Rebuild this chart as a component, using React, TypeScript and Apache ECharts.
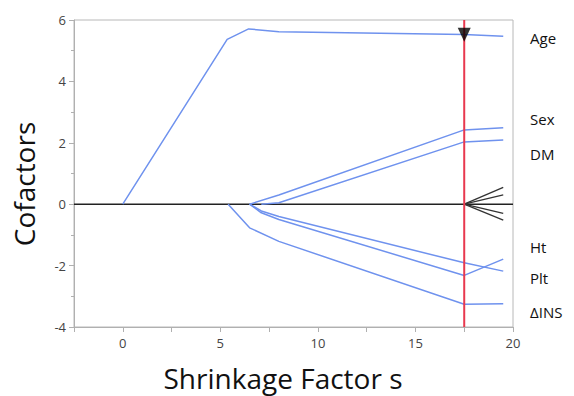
import React, { useEffect, useRef } from "react";
import * as echarts from "echarts";

const ageLine: [number, number][] = [[0, 0], [5.35, 5.37], [6.45, 5.71], [8, 5.62], [17.5, 5.53], [19.5, 5.47]];
const sexLine: [number, number][] = [[6.5, 0], [8, 0.3], [17.5, 2.42], [19.5, 2.49]];
const dmLine: [number, number][] = [[7.1, 0], [8, 0.05], [17.5, 2.03], [19.5, 2.09]];
const htLine: [number, number][] = [[6.5, 0], [7.1, -0.28], [8, -0.5], [17.5, -2.32], [19.5, -1.79]];
const pltLine: [number, number][] = [[6.5, 0], [7.1, -0.22], [8, -0.4], [17.5, -1.91], [19.5, -2.18]];
const insLine: [number, number][] = [[5.4, 0], [6.5, -0.77], [8, -1.21], [17.5, -3.26], [19.5, -3.24]];
const zeroLine: [number, number][] = [[-2.5, 0], [20, 0]];
const fanEnds: number[] = [0.55, 0.3, -0.3, -0.52];
const fanStart: [number, number] = [17.5, 0];
const fanX = 19.5;
const cutoff = 17.5;
const markerY = 5.52;
const cofactorLabels: string[] = ["Age", "Sex", "DM", "Ht", "Plt", "ΔINS"];
const xTickValues: number[] = [0, 5, 10, 15, 20];
const xTitle = "Shrinkage Factor s";
const yTitle = "Cofactors";

export default function App() {
  const ref = useRef<HTMLDivElement>(null);
  useEffect(() => {
    if (!ref.current) return;
    const chart = echarts.init(ref.current, null, { renderer: "svg" });
    const blue = "#6f92ee";
    const blueSeries = [ageLine, sexLine, dmLine, htLine, pltLine, insLine].map((d, i) => ({
      type: "line",
      name: cofactorLabels[i],
      data: d,
      symbol: "none",
      lineStyle: { color: blue, width: 1.5 },
      z: 3,
    }));
    const fanSeries = fanEnds.map((y) => ({
      type: "line",
      data: [fanStart, [fanX, y]],
      symbol: "none",
      lineStyle: { color: "#333", width: 1.3 },
      z: 4,
    }));
    const labelYs = [38, 119, 154, 247, 278, 312];
    const font = "Open Sans";
    chart.setOption({
      animation: false,
      grid: { left: 74, right: 61, top: 20, bottom: 69, show: true, borderColor: "#b8b8b8", borderWidth: 1 },
      xAxis: {
        type: "value",
        min: -2.5,
        max: 20,
        interval: 2.5,
        axisLine: { show: true, onZero: false, lineStyle: { color: "#b0b0b0" } },
        axisTick: { show: true, length: 5, lineStyle: { color: "#b0b0b0" } },
        splitLine: { show: false },
        axisLabel: {
          color: "#444",
          fontFamily: font,
          fontSize: 13,
          margin: 9,
          formatter: (v: number) => (xTickValues.includes(v) ? String(v) : ""),
        },
      },
      yAxis: {
        type: "value",
        min: -4,
        max: 6,
        interval: 2,
        axisLine: { show: true, onZero: false, lineStyle: { color: "#b0b0b0" } },
        axisTick: { show: true, length: 5, lineStyle: { color: "#b0b0b0" } },
        minorTick: { show: true, splitNumber: 2, length: 3, lineStyle: { color: "#b0b0b0" } },
        splitLine: { show: false },
        axisLabel: { color: "#444", fontFamily: font, fontSize: 13, margin: 8 },
      },
      graphic: [
        ...cofactorLabels.map((t, i) => ({
          type: "text",
          x: 530,
          y: labelYs[i],
          style: { text: t, fontFamily: font, fontSize: 15, fill: "#111", verticalAlign: "middle" },
        })),
        {
          type: "text",
          x: 283,
          y: 378,
          style: { text: xTitle, fontFamily: font, fontSize: 28, fill: "#111", align: "center", verticalAlign: "middle" },
        },
        {
          type: "text",
          x: 24,
          y: 184,
          rotation: Math.PI / 2,
          style: { text: yTitle, fontFamily: font, fontSize: 28, fill: "#111", align: "center", verticalAlign: "middle" },
        },
      ],
      series: [
        {
          type: "line",
          data: zeroLine,
          symbol: "none",
          lineStyle: { color: "#222", width: 1.5 },
          z: 2,
        },
        ...blueSeries,
        ...fanSeries,
        {
          type: "line",
          data: [[cutoff, -4], [cutoff, 6]],
          symbol: "none",
          lineStyle: { color: "#e8394f", width: 2 },
          z: 5,
        },
        {
          type: "scatter",
          data: [[cutoff, markerY]],
          symbol: "triangle",
          symbolRotate: 180,
          symbolSize: [13, 14],
          itemStyle: { color: "#000" },
          z: 6,
        },
      ],
    });
    return () => chart.dispose();
  }, []);
  return <div ref={ref} style={{ width: 574, height: 396, position: "absolute", left: 0, top: 0 }} />;
}
